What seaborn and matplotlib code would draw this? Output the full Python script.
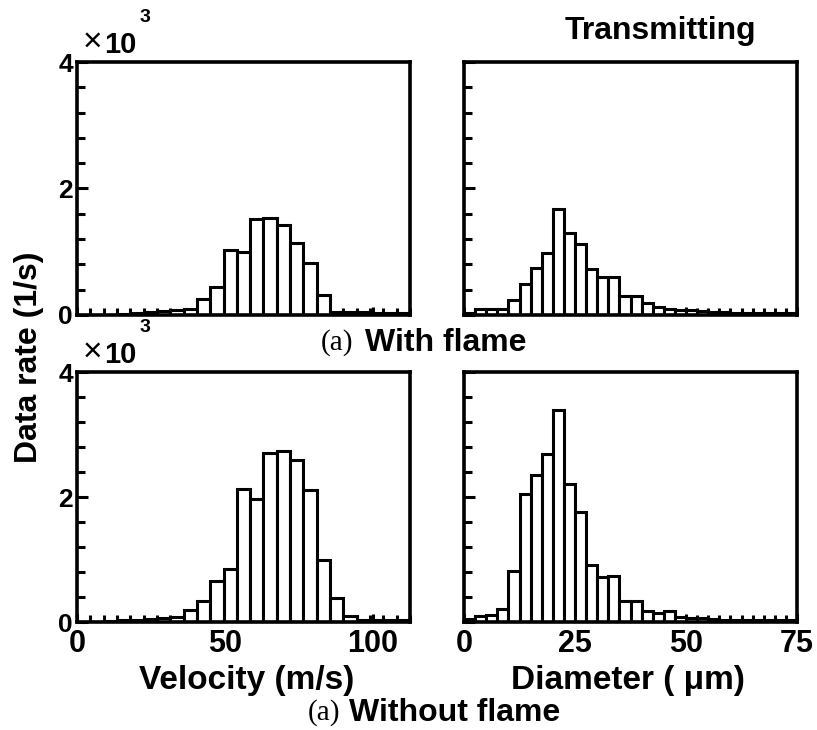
import numpy as np
import pandas as pd
import matplotlib
matplotlib.use("Agg")
import matplotlib.pyplot as plt
import seaborn as sns
from matplotlib.ticker import FixedLocator, MultipleLocator

# ---------------- data (values in units of 10^3 1/s) ----------------
vel_edges = np.arange(0, 112.5 + 0.01, 4.5)      # velocity bins (m/s)
dia_edges = np.arange(0, 75 + 0.01, 2.5)         # diameter bins (um)

vel_with = [0.00, 0.00, 0.00, 0.02, 0.03, 0.05, 0.07, 0.08, 0.10,
            0.26, 0.45, 1.03, 1.00, 1.51, 1.54, 1.43, 1.14, 0.83, 0.32,
            0.05, 0.04, 0.04, 0.03, 0.03, 0.03]
vel_without = [0.00, 0.00, 0.02, 0.03, 0.04, 0.05, 0.06, 0.08, 0.19,
               0.34, 0.66, 0.85, 2.13, 1.97, 2.70, 2.74, 2.59, 2.11, 0.99,
               0.38, 0.10, 0.04, 0.03, 0.03, 0.03]
dia_with = [0.03, 0.10, 0.10, 0.10, 0.24, 0.49, 0.75, 0.98, 1.67, 1.30,
            1.12, 0.72, 0.60, 0.60, 0.30, 0.30, 0.19, 0.13, 0.10, 0.08,
            0.08, 0.06, 0.05, 0.04, 0.03, 0.03, 0.03, 0.03, 0.03, 0.03]
dia_without = [0.05, 0.10, 0.12, 0.21, 0.81, 2.05, 2.35, 2.69, 3.39, 2.21,
               1.76, 0.92, 0.72, 0.74, 0.33, 0.33, 0.17, 0.15, 0.17, 0.08,
               0.07, 0.06, 0.05, 0.04, 0.04, 0.03, 0.03, 0.03, 0.03, 0.03]

vel_ticks = [0, 50, 100]
dia_ticks = [0, 25, 50, 75]
y_ticks = [0, 2, 4]

# ---------------- style ----------------
sns.set_style("ticks")
plt.rcParams["font.family"] = ["Liberation Sans", "DejaVu Sans"]
plt.rcParams["font.weight"] = "bold"
plt.rcParams["text.color"] = "black"
plt.rcParams["axes.labelcolor"] = "black"
plt.rcParams["xtick.color"] = "black"
plt.rcParams["ytick.color"] = "black"
plt.rcParams["xtick.labelcolor"] = "black"
plt.rcParams["ytick.labelcolor"] = "black"

W, H = 817, 730
fig = plt.figure(figsize=(W / 100, H / 100), dpi=100)


def px_rect(x0, y0, x1, y1):
    return [x0 / W, 1 - y1 / H, (x1 - x0) / W, (y1 - y0) / H]


def fx(x):
    return x / W


def fy(y):
    return 1 - y / H


ax_tl = fig.add_axes(px_rect(77, 62, 410, 315))
ax_tr = fig.add_axes(px_rect(464, 62, 797, 315))
ax_bl = fig.add_axes(px_rect(77, 372, 410, 622))
ax_br = fig.add_axes(px_rect(464, 372, 797, 622))


def panel(ax, edges, heights, xmax, xticks, show_x, show_y):
    edge_list = [float(e) for e in edges]
    centers = [(a + b) / 2 for a, b in zip(edge_list[:-1], edge_list[1:])]
    df = pd.DataFrame({"x": centers, "rate": heights})
    sns.histplot(data=df, x="x", weights="rate", bins=edge_list, ax=ax,
                 color="white", edgecolor="black", linewidth=2.2, alpha=1)
    ax.set_xlim(0, xmax)
    ax.set_ylim(0, 4)
    ax.set_xlabel("")
    ax.set_ylabel("")
    for s in ax.spines.values():
        s.set_visible(True)
        s.set_linewidth(2.6)
        s.set_color("black")
        s.set_zorder(5)
    ax.xaxis.set_major_locator(FixedLocator(xticks))
    ax.xaxis.set_minor_locator(FixedLocator(edge_list))
    ax.yaxis.set_major_locator(FixedLocator(y_ticks))
    ax.yaxis.set_minor_locator(MultipleLocator(0.4))
    ax.tick_params(which="both", direction="in", top=False, right=False,
                   width=2.2, color="black")
    ax.tick_params(axis="y", which="major", length=8, pad=3,
                   labelsize=19, labelleft=show_y)
    ax.tick_params(axis="y", which="minor", length=6)
    ax.tick_params(axis="x", which="major", length=6, pad=5,
                   labelsize=22, labelbottom=show_x)
    ax.tick_params(axis="x", which="minor", length=5)
    for lab in ax.get_xticklabels() + ax.get_yticklabels():
        lab.set_fontweight("bold")
        lab.set_color("black")
    ax.set_facecolor("white")


panel(ax_tl, vel_edges, vel_with, 112.5, vel_ticks, False, True)
panel(ax_tr, dia_edges, dia_with, 75, dia_ticks, False, False)
panel(ax_bl, vel_edges, vel_without, 112.5, vel_ticks, True, True)
panel(ax_br, dia_edges, dia_without, 75, dia_ticks, True, False)

# ---------------- texts ----------------
fig.text(fx(660), fy(31), "Transmitting", ha="center", va="center",
         fontsize=23, fontweight="bold")

for dy in (0, 310):
    fig.text(fx(92), fy(42 + dy), "\u00d7", ha="center", va="center",
             fontsize=24, fontweight="normal")
    fig.text(fx(104), fy(53 + dy), "10", ha="left", va="baseline",
             fontsize=21, fontweight="bold")
    fig.text(fx(145), fy(17 + dy), "3", ha="center", va="center",
             fontsize=14, fontweight="bold")

fig.text(fx(337), fy(343), "(a)", ha="center", va="center",
         fontsize=21, fontweight="normal",
         family=["Liberation Serif", "DejaVu Serif"])
fig.text(fx(365), fy(343), "With flame", ha="left", va="center",
         fontsize=23, fontweight="bold")

fig.text(fx(324), fy(713), "(a)", ha="center", va="center",
         fontsize=21, fontweight="normal",
         family=["Liberation Serif", "DejaVu Serif"])
fig.text(fx(349), fy(713), "Without flame", ha="left", va="center",
         fontsize=23, fontweight="bold")

fig.text(fx(247), fy(680), "Velocity (m/s)", ha="center", va="center",
         fontsize=24, fontweight="bold")
fig.text(fx(628), fy(680), "Diameter ( \u03bcm)", ha="center", va="center",
         fontsize=24, fontweight="bold")

fig.text(fx(29), fy(357), "Data rate (1/s)", ha="center", va="center",
         rotation=90, fontsize=23, fontweight="bold")

fig.savefig("out.png", dpi=100, facecolor="white")
